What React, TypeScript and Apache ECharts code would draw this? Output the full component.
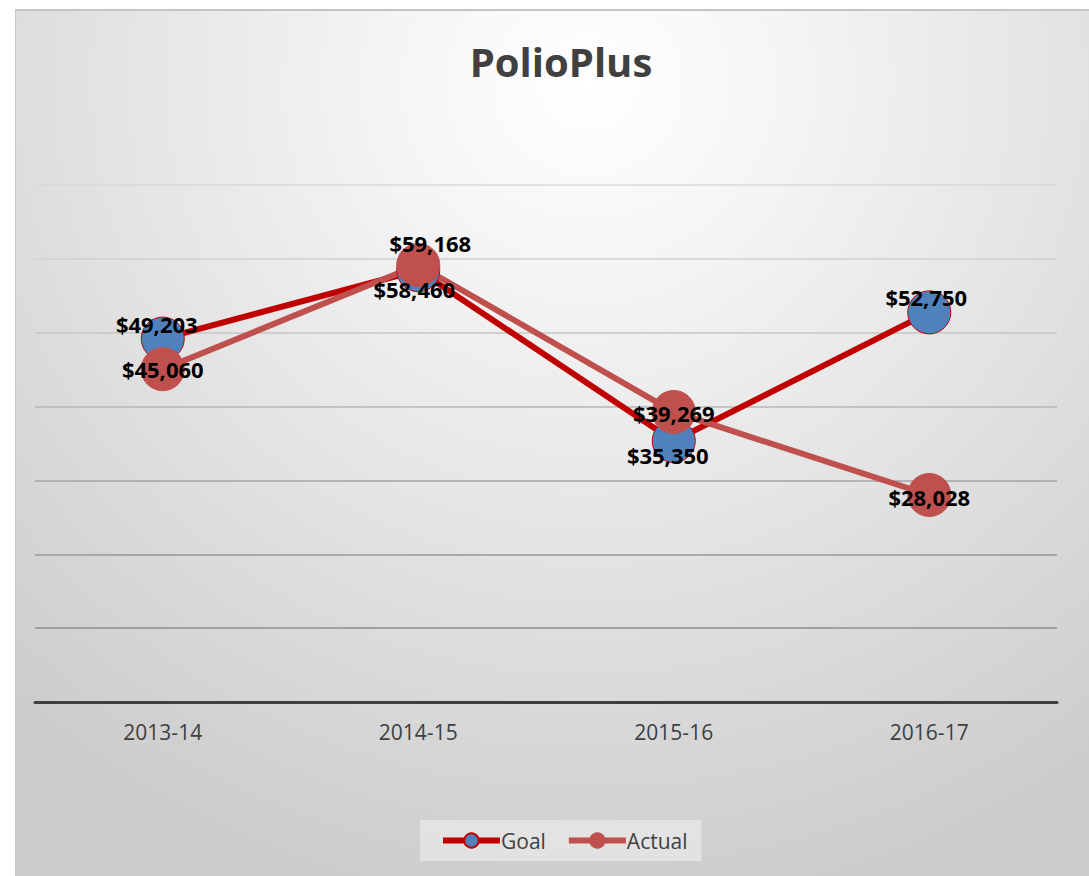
import React, { useEffect, useRef } from "react";
import * as echarts from "echarts";

const categories = ["2013-14", "2014-15", "2015-16", "2016-17"];
const goalValues = [49203, 58460, 35350, 52750];
const actualValues = [45060, 59168, 39269, 28028];
const goalLabelOffsets = [[-6, -15], [-4, 19], [-6, 14], [-3, -15]];
const actualLabelOffsets = [[0, 0], [12, -22], [0, 1], [0, 2]];

const fmt = (v: number) => "$" + v.toLocaleString("en-US");
const FONT = "'Open Sans', 'Noto Sans', sans-serif";

export default function App() {
  const ref = useRef<HTMLDivElement>(null);
  useEffect(() => {
    if (!ref.current) return;
    const chart = echarts.init(ref.current, undefined, { renderer: "svg" });
    const mkData = (vals: number[], offs: number[][]) =>
      vals.map((v, i) => ({
        value: v,
        label: { offset: offs[i] },
      }));
    const labelStyle = {
      show: true,
      position: "inside",
      formatter: (p: any) => fmt(p.value),
      fontFamily: FONT,
      fontSize: 22,
      fontWeight: "bold",
      color: "#000000",
    };
    chart.setOption({
      animation: false,
      backgroundColor: "transparent",
      title: {
        text: "PolioPlus",
        left: 556,
        top: 36,
        textAlign: "center",
        textStyle: { fontFamily: FONT, fontSize: 40, fontWeight: "bold", color: "#404040" },
      },
      legend: {
        top: 820,
        left: 420,
        orient: "horizontal",
        backgroundColor: "rgba(232,232,232,0.75)",
        padding: [10, 14, 10, 20],
        itemWidth: 57,
        itemHeight: 18,
        itemGap: 20,
        lineStyle: { width: 6 },
        textStyle: { fontFamily: FONT, fontSize: 21, color: "#404040", padding: [0, 0, 0, -4] },
        data: ["Goal", "Actual"],
      },
      grid: { left: 35, right: 32, top: 185, bottom: 174 },
      xAxis: {
        type: "category",
        data: categories,
        boundaryGap: true,
        axisLine: { lineStyle: { color: "#404040", width: 3 } },
        axisTick: { show: false },
        axisLabel: { fontFamily: FONT, fontSize: 21, color: "#404040", margin: 19 },
      },
      yAxis: {
        type: "value",
        min: 0,
        max: 70000,
        interval: 10000,
        axisLabel: { show: false },
        axisLine: { show: false },
        axisTick: { show: false },
        splitLine: {
          lineStyle: {
            color: ["#404040", "#8E8E8E", "#979797", "#A5A5A5", "#B6B6B6", "#C6C6C6", "#D0D0D0", "#D8D8D8"],
            width: 1.5,
          },
        },
      },
      series: [
        {
          name: "Goal",
          type: "line",
          data: mkData(goalValues, goalLabelOffsets),
          symbol: "circle",
          symbolSize: 43,
          lineStyle: { color: "#C00000", width: 6 },
          itemStyle: { color: "#4F81BD", borderColor: "#C00000", borderWidth: 1 },
          label: labelStyle,
        },
        {
          name: "Actual",
          type: "line",
          data: mkData(actualValues, actualLabelOffsets),
          symbol: "circle",
          symbolSize: 43,
          lineStyle: { color: "#C0504D", width: 6 },
          itemStyle: { color: "#C0504D", borderColor: "#C0504D", borderWidth: 1 },
          label: labelStyle,
        },
      ],
    });
    return () => chart.dispose();
  }, []);

  return (
    <div style={{ position: "fixed", left: 0, top: 0, width: 1089, height: 876, background: "#ffffff", overflow: "hidden" }}>
      <div
        style={{
          position: "absolute",
          left: 15,
          top: 9,
          width: 1100,
          height: 900,
          borderLeft: "1px solid #C8C8C8",
          borderTop: "2px solid #C4C4C4",
          background:
            "radial-gradient(ellipse 80% 95% at 52% 8%, #ffffff 0%, #f5f5f5 22%, #e6e6e6 50%, #d8d8d8 75%, #cbcbcb 100%)",
        }}
      />
      <div ref={ref} style={{ position: "absolute", left: 0, top: 0, width: 1089, height: 876 }} />
    </div>
  );
}
